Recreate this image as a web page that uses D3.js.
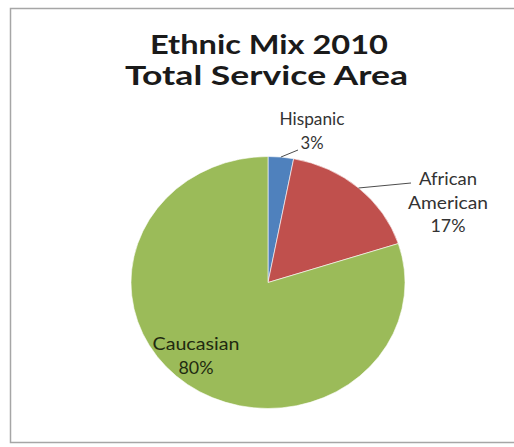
<!DOCTYPE html>
<html>
<head>
<meta charset="utf-8">
<script src="https://cdn.jsdelivr.net/npm/d3@7"></script>
<style>
html,body{margin:0;padding:0;background:#fff;}
svg{display:block;}
</style>
</head>
<body>
<svg id="chart" width="514" height="447"></svg>
<script>
// ---- data ----
const categories = ["Hispanic", "African American", "Caucasian"];
const labelLines = [["Hispanic", "3%"], ["African", "American", "17%"], ["Caucasian", "80%"]];
const values = [3, 17, 80];
const titleLines = ["Ethnic Mix 2010", "Total Service Area"];

// ---- style / layout ----
const colors = ["#4F81BD", "#C0504D", "#9BBB59"];
const W = 514, H = 447;
const cx = 268, cy = 282.5, r = 126, sx = 137 / 126;
const labelOffsets = [[44, -157.5], [180, -97.5], [-72, 67.5]]; // label centre relative to pie centre
const leaderEnds = [[30, -132.5], [143, -99.5], null];
const lineGap = 23.5;

const svg = d3.select("#chart");
svg.append("rect").attr("x", 0).attr("y", 0).attr("width", W).attr("height", H).attr("fill", "#fff");
// chart area border
svg.append("path")
  .attr("d", `M${W + 5},8.5 H10.5 V442.5 H${W + 5}`)
  .attr("fill", "none").attr("stroke", "#a6a6a6").attr("stroke-width", 1.5);

// title
const titleW = [238, 283];
svg.append("g").selectAll("text").data(titleLines).join("text")
  .attr("x", (d, i) => i === 0 ? 269 : 266.5)
  .attr("y", (d, i) => 54 + i * 31)
  .attr("text-anchor", "middle")
  .attr("font-family", "Lato, 'Open Sans', sans-serif")
  .attr("font-weight", "bold")
  .attr("font-size", 27)
  .attr("fill", "#1a1a1a")
  .attr("textLength", (d, i) => titleW[i])
  .attr("lengthAdjust", "spacingAndGlyphs")
  .text(d => d);

// pie
const pie = d3.pie().sort(null).value(d => d)(values);
const arc = d3.arc().innerRadius(0).outerRadius(r);
const edgeArc = d3.arc().innerRadius(r).outerRadius(r);
const pg = svg.append("g").attr("transform", `translate(${cx},${cy}) scale(${sx},1)`);
pg.selectAll("path").data(pie).join("path")
  .attr("d", arc)
  .attr("fill", (d, i) => colors[i])
  .attr("stroke", "#fff")
  .attr("stroke-width", 0.6)
  .attr("vector-effect", "non-scaling-stroke");

// leader lines
const lg = svg.append("g").attr("transform", `translate(${cx},${cy})`);
pie.forEach((d, i) => {
  if (!leaderEnds[i]) return;
  const c = edgeArc.centroid(d);
  lg.append("line")
    .attr("x1", c[0] * sx).attr("y1", c[1])
    .attr("x2", leaderEnds[i][0]).attr("y2", leaderEnds[i][1])
    .attr("stroke", "#4d4d4d").attr("stroke-width", 1);
});

// labels
const labelW = [[65, 23], [58, 80, 35], [87, 35]];
const lab = svg.append("g").attr("transform", `translate(${cx},${cy})`);
labelLines.forEach((lines, i) => {
  const t = lab.append("g");
  lines.forEach((s, j) => {
    t.append("text")
      .attr("x", labelOffsets[i][0])
      .attr("y", labelOffsets[i][1] + j * lineGap)
      .attr("text-anchor", "middle")
      .attr("font-family", "Lato, 'Open Sans', sans-serif")
      .attr("font-size", 16.5)
      .attr("fill", i === 2 ? "#1f2a10" : "#333")
      .attr("textLength", labelW[i][j])
      .attr("lengthAdjust", "spacingAndGlyphs")
      .text(s);
  });
});
</script>
</body>
</html>
